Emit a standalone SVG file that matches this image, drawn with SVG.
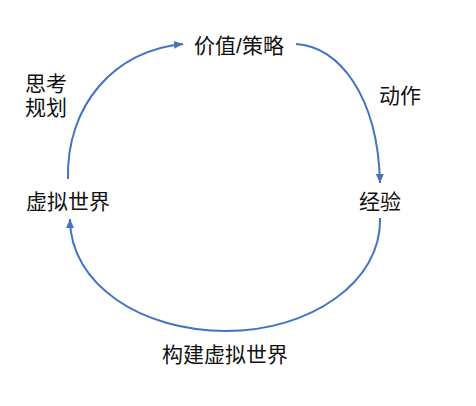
<svg xmlns="http://www.w3.org/2000/svg" width="476" height="406" viewBox="0 0 476 406">
<style>
.lbl{font-family:"Liberation Sans","Noto Sans CJK SC",sans-serif;font-size:21px;fill:#111;}
.c{fill:none;stroke:#4472C4;stroke-width:2;}
</style>
<defs>
<marker id="ah" markerWidth="10" markerHeight="10" refX="9" refY="5" orient="auto" markerUnits="userSpaceOnUse">
<path d="M0,1 L9,5 L0,9 Z" fill="#4472C4"/>
</marker>
</defs>
<rect width="476" height="406" fill="#fff"/>
<g id="connectors">
<path class="c" d="M68,179 C66,105 115,50 183,44" marker-end="url(#ah)"/>
<path class="c" d="M296,44 C338,46 378,95 380,183" marker-end="url(#ah)"/>
<path class="c" d="M380,218 C382,282 310,331 226,331 C142,331 70,285 70,219" marker-end="url(#ah)"/>
</g>
<g id="node-value"><text class="lbl" x="239" y="53" text-anchor="middle">价值/策略</text></g>
<g id="node-experience"><text class="lbl" x="380" y="209" text-anchor="middle">经验</text></g>
<g id="node-virtual"><text class="lbl" x="68" y="209" text-anchor="middle">虚拟世界</text></g>
<g id="label-plan"><text class="lbl" x="25" y="91">思考</text><text class="lbl" x="25" y="115">规划</text></g>
<g id="label-action"><text class="lbl" x="379" y="103">动作</text></g>
<g id="label-build"><text class="lbl" x="225" y="362" text-anchor="middle">构建虚拟世界</text></g>
</svg>
